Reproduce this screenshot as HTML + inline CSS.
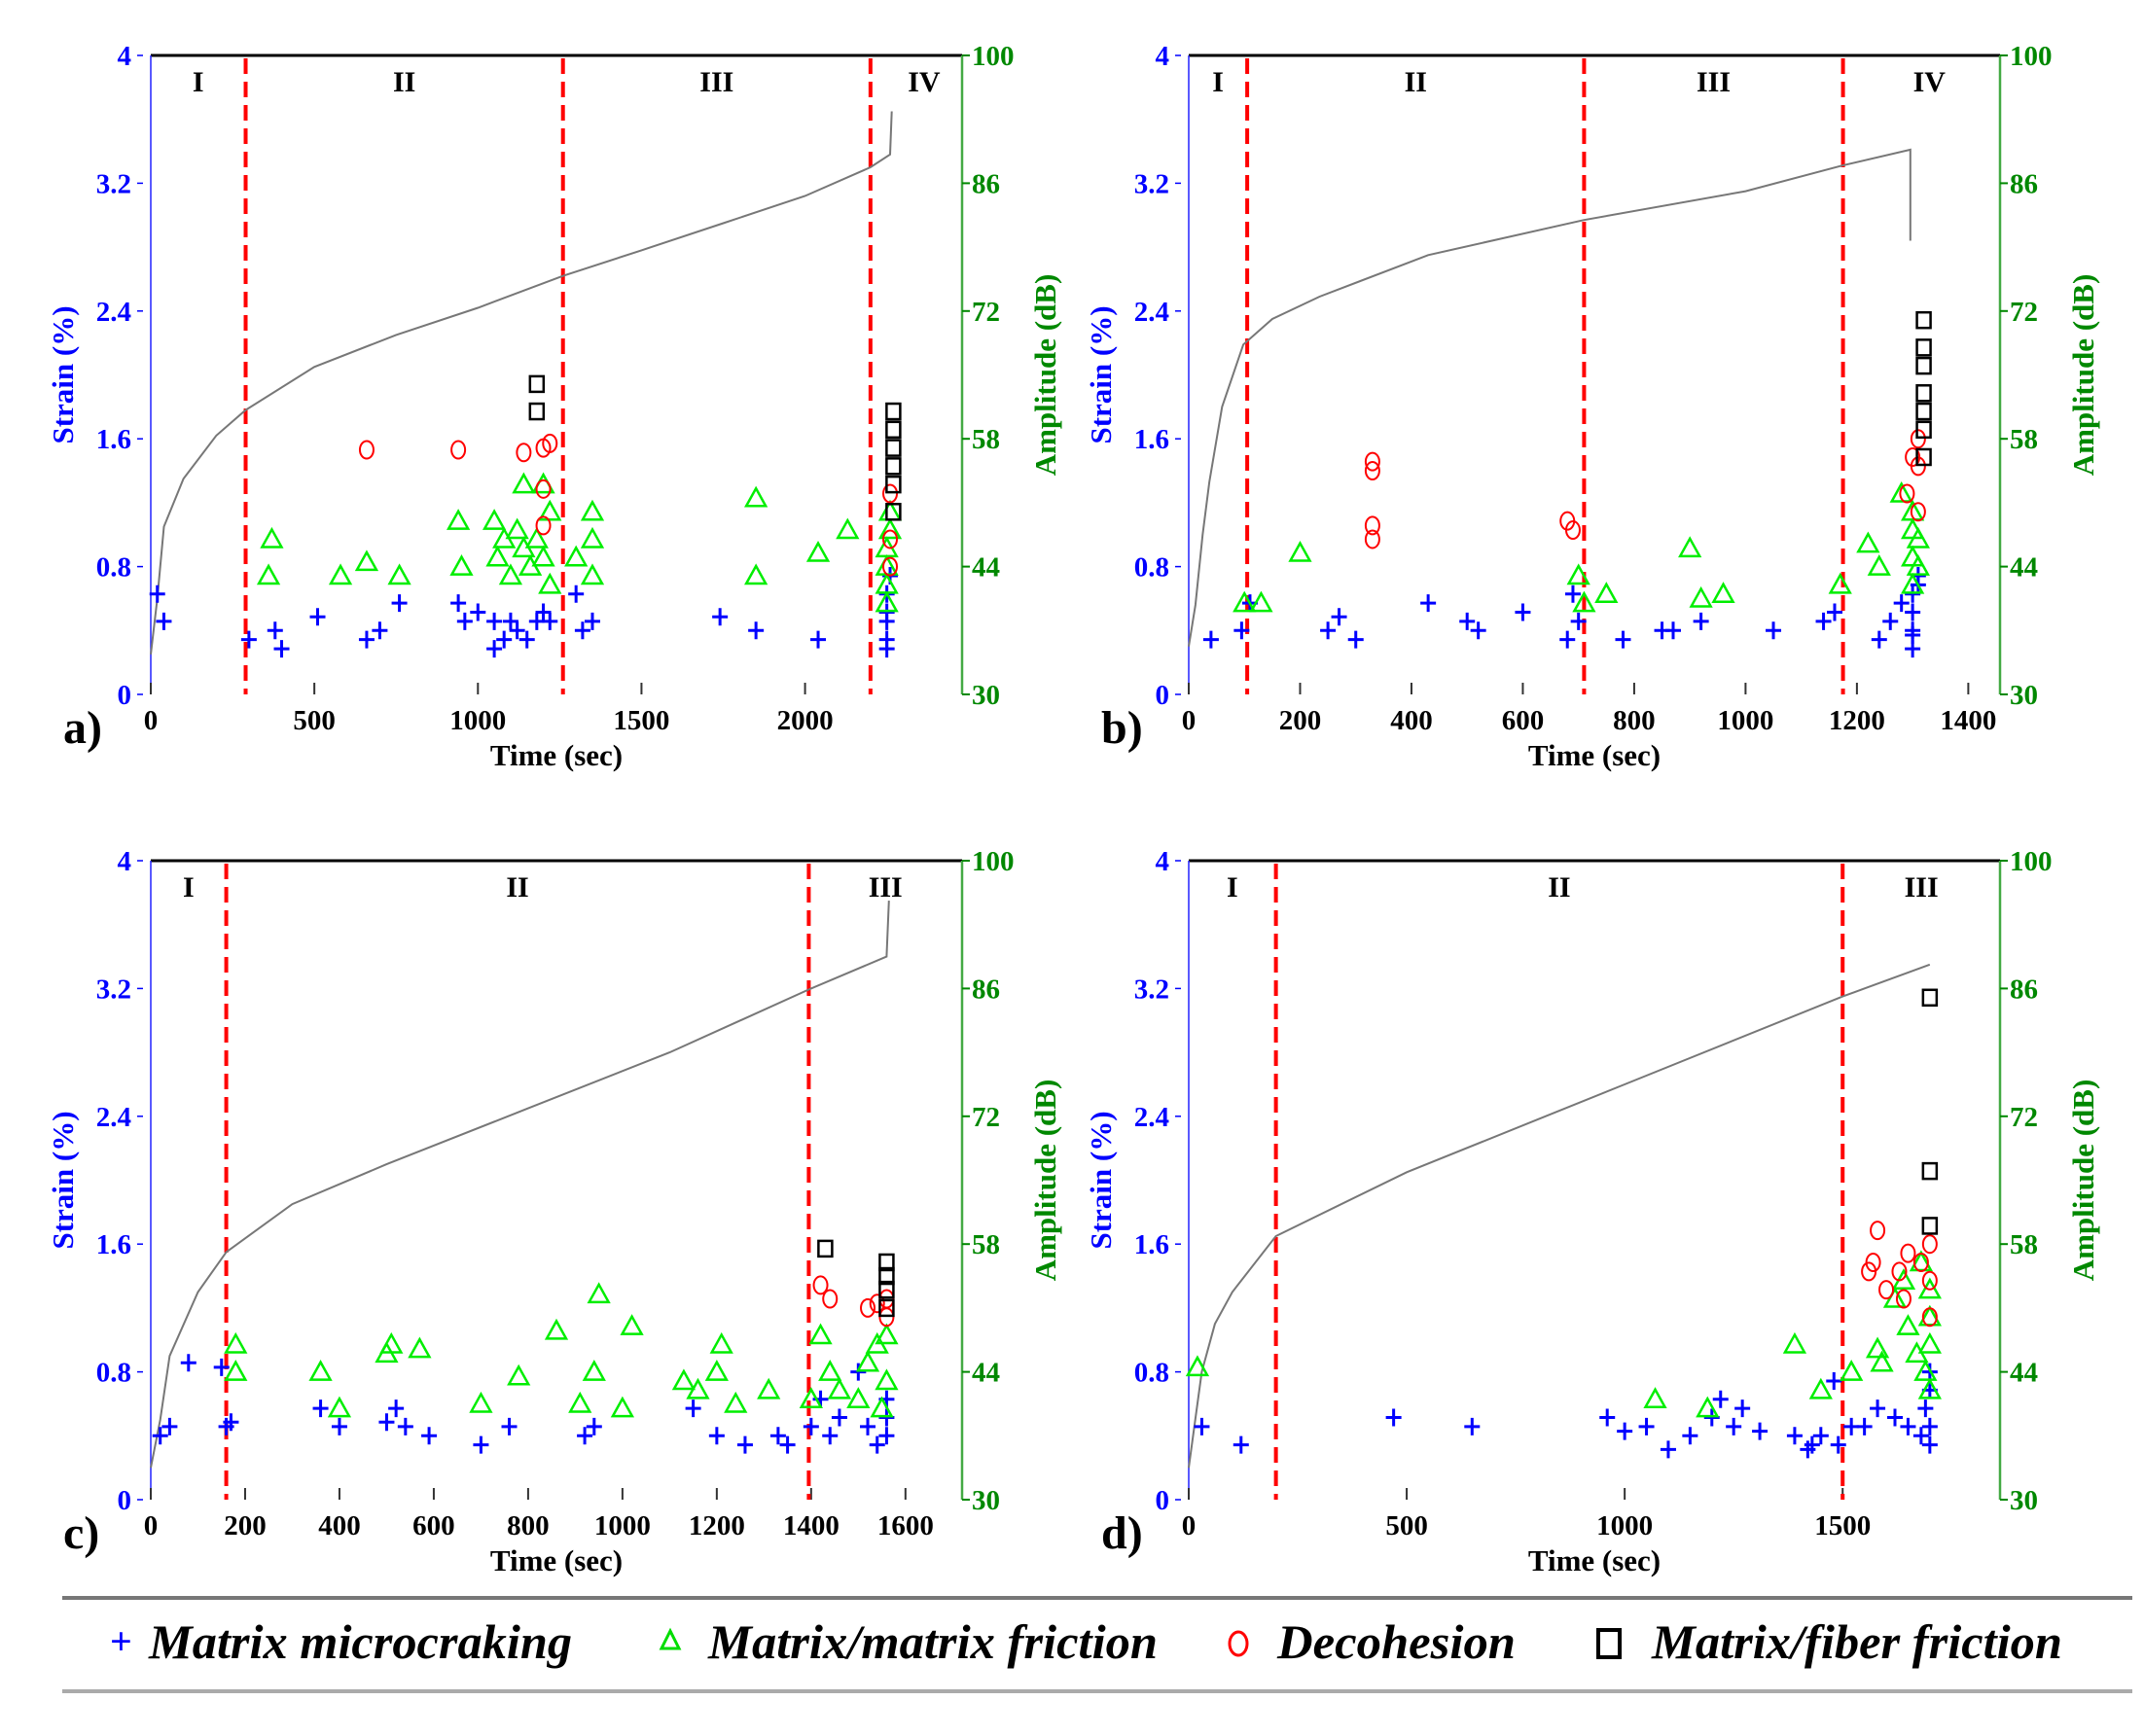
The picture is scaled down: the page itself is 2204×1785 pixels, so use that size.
<!DOCTYPE html>
<html><head><meta charset="utf-8">
<style>
html,body{margin:0;padding:0;background:#fff;}
svg{display:block;font-family:"Liberation Serif",serif;}
</style></head>
<body>
<svg id="fig" width="2204" height="1785" viewBox="0 0 2204 1785" xmlns="http://www.w3.org/2000/svg">
<g id="panels"></g>
<g id="legend">
  <line x1="64" y1="1643" x2="2192" y2="1643" stroke="#777" stroke-width="4"/>
  <line x1="64" y1="1739" x2="2192" y2="1739" stroke="#aaa" stroke-width="4"/>
  <g>
    <text x="113" y="1701" font-size="40" fill="#00f" font-weight="bold">+</text>
    <text x="153" y="1705" font-size="50" font-style="italic" font-weight="bold" textLength="435" lengthAdjust="spacingAndGlyphs">Matrix microcraking</text>
  </g>
  <g>
    <polygon points="689,1677 680,1695 698,1695" fill="none" stroke="#0d0" stroke-width="3"/>
    <text x="728" y="1705" font-size="50" font-style="italic" font-weight="bold" textLength="462" lengthAdjust="spacingAndGlyphs">Matrix/matrix friction</text>
  </g>
  <g>
    <ellipse cx="1273" cy="1690" rx="9" ry="12" fill="none" stroke="#f00" stroke-width="3"/>
    <text x="1313" y="1705" font-size="50" font-style="italic" font-weight="bold" textLength="245" lengthAdjust="spacingAndGlyphs">Decohesion</text>
  </g>
  <g>
    <rect x="1643" y="1676" width="22" height="28" fill="none" stroke="#000" stroke-width="4"/>
    <text x="1698" y="1705" font-size="50" font-style="italic" font-weight="bold" textLength="422" lengthAdjust="spacingAndGlyphs">Matrix/fiber friction</text>
  </g>
</g>
</svg>
<script>
// ---- panel a ----
const aTimeTicks=[0,500,1000,1500,2000];
const aPhases=[290,1260,2200];
const aPhaseLabels=["I","II","III","IV"];
const aStrainT=[0,20,40,100,200,290,500,750,1000,1260,1500,1750,2000,2200,2260,2265];
const aStrainV=[0.25,0.6,1.05,1.35,1.62,1.78,2.05,2.25,2.42,2.62,2.78,2.95,3.12,3.3,3.38,3.65];
const aMicroT=[20,40,300,380,400,510,660,700,760,940,960,1000,1050,1050,1080,1100,1120,1150,1180,1200,1220,1300,1320,1350,1740,1850,2040,2250,2250,2250,2250,2250,2260];
const aMicroA=[41,38,36,37,35,38.5,36,37,40,40,38,39,38,35,36,38,37,36,38,39,38,41,37,38,38.5,37,36,36,38,39,41,35,43];
const aFricT=[370,360,580,660,760,940,950,1050,1060,1080,1100,1120,1140,1140,1160,1180,1200,1200,1220,1220,1300,1350,1350,1350,1850,1850,2040,2130,2250,2250,2250,2250,2260,2260];
const aFricA=[47,43,43,44.5,43,49,44,49,45,47,43,48,46,53,44,47,53,45,50,42,45,50,47,43,51.5,43,45.5,48,40,42,44,46,48,50];
const aDecoT=[660,940,1140,1200,1200,1200,1220,2260,2260,2260];
const aDecoA=[56.8,56.8,56.5,57,52.5,48.5,57.5,47,52,44];
const aFibT=[1180,1180,2270,2270,2270,2270,2270,2270];
const aFibA=[64,61,59,61,57,55,53,50];
// ---- panel b ----
const bTimeTicks=[0,200,400,600,800,1000,1200,1400];
const bPhases=[105,710,1175];
const bPhaseLabels=["I","II","III","IV"];
const bStrainT=[0,12,25,37,60,98,150,235,430,710,1000,1173,1296,1296];
const bStrainV=[0.3,0.56,1.0,1.33,1.8,2.19,2.35,2.49,2.75,2.97,3.15,3.31,3.41,2.84];
const bMicroT=[40,95,110,250,270,300,430,500,520,600,680,690,700,780,850,870,920,1050,1140,1160,1240,1260,1280,1300,1300,1300,1300,1310,1310,1300];
const bMicroA=[36,37,40,37,38.5,36,40,38,37,39,36,41,38,36,37,37,38,37,38,39,36,38,40,35,37,39,41,42,43,36.5];
const bFricT=[100,130,200,700,710,750,900,920,960,1170,1220,1240,1280,1300,1300,1300,1300,1310,1310];
const bFricA=[40,40,45.5,43,40,41,46,40.5,41,42,46.5,44,52,50,48,45,42,47,44];
const bDecoT=[330,330,330,330,680,690,1290,1300,1310,1310,1310];
const bDecoA=[55.5,54.5,48.5,47,49,48,52,56,58,55,50];
const bFibT=[1320,1320,1320,1320,1320,1320,1320];
const bFibA=[71,68,66,63,61,59,56];
// ---- panel c ----
const cTimeTicks=[0,200,400,600,800,1000,1200,1400,1600];
const cPhases=[160,1395];
const cPhaseLabels=["I","II","III"];
const cStrainT=[0,20,40,100,160,300,500,800,1100,1400,1560,1565];
const cStrainV=[0.2,0.5,0.9,1.3,1.55,1.85,2.1,2.45,2.8,3.2,3.4,3.75];
const cMicroT=[20,40,80,150,160,170,360,400,500,520,540,590,700,760,920,940,1150,1200,1260,1330,1350,1400,1420,1440,1460,1500,1520,1540,1560,1560,1560];
const cMicroA=[37,38,45,44.5,38,38.5,40,38,38.5,40,38,37,36,38,37,38,40,37,36,37,36,38,41,37,39,44,38,36,39,41,37];
const cFricT=[180,180,360,400,500,510,570,700,780,860,910,940,950,1000,1020,1130,1160,1200,1210,1240,1310,1400,1420,1440,1460,1500,1520,1540,1550,1560,1560];
const cFricA=[47,44,44,40,46,47,46.5,40.5,43.5,48.5,40.5,44,52.5,40,49,43,42,44,47,40.5,42,41,48,44,42,41,45,47,40,48,43];
const cDecoT=[1420,1440,1520,1540,1560,1560];
const cDecoA=[53.5,52,51,51.5,52,50];
const cFibT=[1430,1560,1560,1560,1560];
const cFibA=[57.5,56,54.5,53,51];
// ---- panel d ----
const dTimeTicks=[0,500,1000,1500];
const dPhases=[200,1500];
const dPhaseLabels=["I","II","III"];
const dStrainT=[0,15,30,60,100,200,500,1000,1500,1700];
const dStrainV=[0.2,0.5,0.8,1.1,1.3,1.65,2.05,2.6,3.15,3.35];
const dMicroT=[30,120,470,650,960,1000,1050,1100,1150,1200,1220,1250,1270,1310,1390,1420,1430,1450,1480,1490,1520,1550,1580,1620,1650,1680,1690,1700,1700,1700,1700];
const dMicroA=[38,36,39,38,39,37.5,38,35.5,37,39,41,38,40,37.5,37,35.5,36,37,43,36,38,38,40,39,38,37,40,42,36,38,44];
const dFricT=[20,1070,1190,1390,1450,1520,1580,1590,1620,1640,1650,1670,1680,1690,1700,1700,1700,1700];
const dFricA=[44.5,41,40,47,42,44,46.5,45,52,54,49,46,56,44,42,47,50,53];
const dDecoT=[1560,1570,1580,1600,1630,1640,1650,1680,1700,1700,1700];
const dDecoA=[55,56,59.5,53,55,52,57,56,58,54,50];
const dFibT=[1700,1700,1700];
const dFibA=[85,66,60];

const strainTicks=[0,0.8,1.6,2.4,3.2,4];
const strainTickLabels=["0","0.8","1.6","2.4","3.2","4"];
const ampTicks=[30,44,58,72,86,100];

const NS="http://www.w3.org/2000/svg";
function mk(tag,attrs,parent){const e=document.createElementNS(NS,tag);for(const k in attrs)e.setAttribute(k,attrs[k]);parent.appendChild(e);return e;}

const panelsG=document.getElementById('panels');
const panels=[
 {id:'a',L:155,R:989,T:57,B:714,xmax:2480,ticks:aTimeTicks,ph:aPhases,pl:aPhaseLabels,st:aStrainT,sv:aStrainV,mt:aMicroT,ma:aMicroA,ft:aFricT,fa:aFricA,dt:aDecoT,da:aDecoA,bt:aFibT,ba:aFibA},
 {id:'b',L:1222,R:2056,T:57,B:714,xmax:1457,ticks:bTimeTicks,ph:bPhases,pl:bPhaseLabels,st:bStrainT,sv:bStrainV,mt:bMicroT,ma:bMicroA,ft:bFricT,fa:bFricA,dt:bDecoT,da:bDecoA,bt:bFibT,ba:bFibA},
 {id:'c',L:155,R:989,T:885,B:1542,xmax:1720,ticks:cTimeTicks,ph:cPhases,pl:cPhaseLabels,st:cStrainT,sv:cStrainV,mt:cMicroT,ma:cMicroA,ft:cFricT,fa:cFricA,dt:cDecoT,da:cDecoA,bt:cFibT,ba:cFibA},
 {id:'d',L:1222,R:2056,T:885,B:1542,xmax:1861,ticks:dTimeTicks,ph:dPhases,pl:dPhaseLabels,st:dStrainT,sv:dStrainV,mt:dMicroT,ma:dMicroA,ft:dFricT,fa:dFricA,dt:dDecoT,da:dDecoA,bt:dFibT,ba:dFibA}
];

panels.forEach(p=>{
  const g=mk('g',{},panelsG);
  
  
  const xs=t=>p.L+(t/p.xmax)*(p.R-p.L);
  const ys=s=>p.B-(s/4)*(p.B-p.T);
  const ya=a=>p.B-((a-30)/70)*(p.B-p.T);

  const top=mk('line',{x1:p.L,y1:p.T,x2:p.R,y2:p.T,stroke:'#000','stroke-width':3},g);
  
  
  const la=mk('line',{x1:p.L,y1:p.T,x2:p.L,y2:p.B,stroke:'#22f','stroke-width':1.5},g);
  
  
  const ra=mk('line',{x1:p.R,y1:p.T,x2:p.R,y2:p.B,stroke:'#4a4','stroke-width':2.5},g);
  
  

  strainTicks.forEach((s,i)=>{
    const t=mk('text',{x:p.L-20,y:ys(s)+10,'font-size':29,'font-weight':'bold',fill:'#00f','text-anchor':'end'},g);
    t.textContent=strainTickLabels[i];
    
    
    mk('line',{x1:p.L-14,y1:ys(s),x2:p.L-8,y2:ys(s),stroke:'#00f','stroke-width':1.5},g);
  });
  ampTicks.forEach(a=>{
    mk('line',{x1:p.R,y1:ya(a),x2:p.R+8,y2:ya(a),stroke:'#080','stroke-width':2},g);
    const t=mk('text',{x:p.R+10,y:ya(a)+10,'font-size':29,'font-weight':'bold',fill:'#080'},g);
    t.textContent=a;
    
    
  });
  p.ticks.forEach(tv=>{
    mk('line',{x1:xs(tv),y1:p.B-12,x2:xs(tv),y2:p.B,stroke:'#333','stroke-width':2},g);
    const t=mk('text',{x:xs(tv),y:p.B+36,'font-size':29,'font-weight':'bold','text-anchor':'middle',fill:'#000'},g);
    t.textContent=tv;
    
    
  });
  const xt=mk('text',{x:(p.L+p.R)/2,y:p.B+73,'font-size':31,'font-weight':'bold','text-anchor':'middle'},g);
  xt.textContent='Time (sec)';
  
  
  const yl=mk('text',{x:0,y:0,'font-size':31,'font-weight':'bold',fill:'#00f','text-anchor':'middle',transform:`translate(${p.L-80},${(p.T+p.B)/2}) rotate(-90)`},g);
  yl.textContent='Strain (%)';
  
  
  const yr=mk('text',{x:0,y:0,'font-size':31,'font-weight':'bold',fill:'#080','text-anchor':'middle',transform:`translate(${p.R+96},${(p.T+p.B)/2}) rotate(-90)`},g);
  yr.textContent='Amplitude (dB)';
  
  
  const pl=mk('text',{x:p.L-90,y:p.B+50,'font-size':48,'font-weight':'bold'},g);
  pl.textContent=p.id+')';
  
  

  p.ph.forEach(t=>{
    const l=mk('line',{x1:xs(t),y1:p.T+3,x2:xs(t),y2:p.B,stroke:'#f00','stroke-width':4,'stroke-dasharray':'16,8'},g);
    
    
  });
  const bounds=[0].concat(p.ph).concat([p.xmax]);
  p.pl.forEach((lab,i)=>{
    let cx=(xs(bounds[i])+xs(bounds[i+1]))/2;
    if(i===p.pl.length-1&&p.pl.length===4) cx=(xs(bounds[i])+p.R)/2+8;
    const t=mk('text',{x:cx,y:p.T+37,'font-size':30,'font-weight':'bold','text-anchor':'middle'},g);
    t.textContent=lab;
    
    
  });

  const pts=p.st.map((t,i)=>xs(t).toFixed(1)+','+ys(p.sv[i]).toFixed(1)).join(' ');
  const c=mk('polyline',{points:pts,fill:'none',stroke:'#777','stroke-width':2},g);
  
  

  p.mt.forEach((t,i)=>{
    const x=xs(t),y=ya(p.ma[i]);
    const m=mk('path',{d:`M${x-8},${y}H${x+8}M${x},${y-9}V${y+9}`,stroke:'#00f','stroke-width':3,fill:'none'},g);
    
    
  });
  p.ft.forEach((t,i)=>{
    const x=xs(t),y=ya(p.fa[i]);
    const m=mk('polygon',{points:`${x},${y-10} ${x-10},${y+8} ${x+10},${y+8}`,stroke:'#0e0','stroke-width':2.5,fill:'none'},g);
    
    
  });
  p.dt.forEach((t,i)=>{
    const m=mk('ellipse',{cx:xs(t),cy:ya(p.da[i]),rx:7,ry:9,stroke:'#f00','stroke-width':2,fill:'none'},g);
    
    
  });
  p.bt.forEach((t,i)=>{
    const m=mk('rect',{x:xs(t)-7,y:ya(p.ba[i])-8,width:14,height:16,stroke:'#000','stroke-width':2.5,fill:'none'},g);
    
    
  });
});
</script>
</body></html>
